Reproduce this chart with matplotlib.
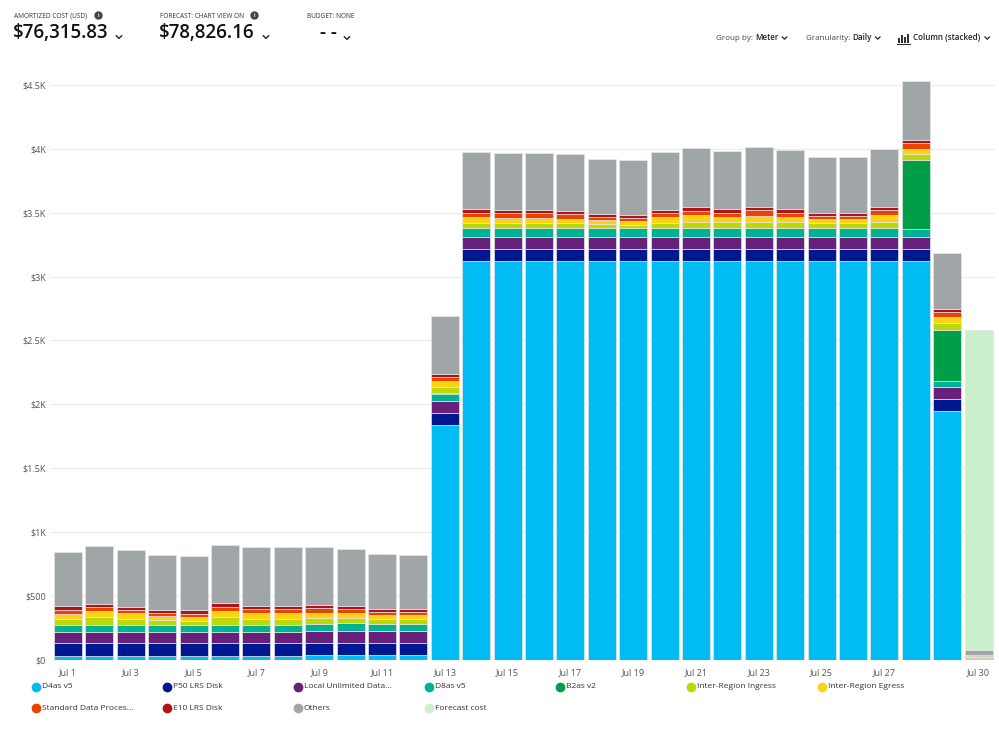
import matplotlib.pyplot as plt
from matplotlib.lines import Line2D
from matplotlib.patches import Rectangle

plt.rcParams['font.family'] = ['Open Sans', 'DejaVu Sans']

# daily amortized cost per meter, Jul 1 .. Jul 30 (USD)
days = ["Jul 1", "Jul 2", "Jul 3", "Jul 4", "Jul 5", "Jul 6", "Jul 7", "Jul 8", "Jul 9", "Jul 10",
        "Jul 11", "Jul 12", "Jul 13", "Jul 14", "Jul 15", "Jul 16", "Jul 17", "Jul 18", "Jul 19", "Jul 20",
        "Jul 21", "Jul 22", "Jul 23", "Jul 24", "Jul 25", "Jul 26", "Jul 27", "Jul 28", "Jul 29", "Jul 30"]
shown_ticks = ["Jul 1", "Jul 3", "Jul 5", "Jul 7", "Jul 9", "Jul 11", "Jul 13", "Jul 15", "Jul 17",
               "Jul 19", "Jul 21", "Jul 23", "Jul 25", "Jul 27", "Jul 30"]

d4as_v5 = [31, 31, 31, 31, 31, 31, 31, 31, 39, 41, 41, 41, 1839, 3118, 3118, 3118, 3118, 3118, 3118, 3118,
           3118, 3118, 3118, 3118, 3118, 3118, 3118, 3118, 1950, 3]
p50_lrs = [99, 99, 99, 99, 99, 99, 99, 99, 96, 94, 94, 94, 96, 96, 96, 96, 96, 96, 96, 96,
           96, 96, 96, 96, 96, 96, 96, 96, 95, 8]
local_unlimited = [92, 92, 92, 92, 92, 92, 92, 92, 92, 92, 93, 93, 92, 92, 92, 92, 92, 92, 92, 92,
                   92, 92, 92, 92, 92, 92, 92, 92, 94, 8]
d8as_v5 = [50, 50, 50, 50, 50, 50, 50, 50, 53, 61, 52, 52, 55, 70, 70, 70, 70, 70, 70, 70,
           70, 70, 70, 70, 70, 70, 70, 67, 45, 2]
b2as_v2 = [4, 4, 4, 4, 4, 4, 4, 4, 4, 4, 4, 4, 5, 5, 5, 5, 5, 5, 5, 5,
           5, 5, 5, 5, 5, 5, 5, 540, 399, 0]
ingress = [45, 58, 45, 37, 32, 58, 47, 47, 47, 39, 34, 34, 47, 40, 40, 40, 37, 32, 24, 40,
           48, 42, 48, 42, 35, 35, 48, 44, 52, 2]
egress = [39, 49, 44, 31, 26, 49, 42, 42, 39, 34, 34, 32, 50, 42, 39, 39, 34, 26, 29, 42,
          52, 40, 46, 40, 31, 31, 49, 42, 47, 8]
standard_data = [31, 29, 26, 24, 29, 32, 34, 34, 37, 34, 26, 26, 31, 36, 34, 34, 37, 29, 26, 31,
                 31, 36, 45, 36, 28, 28, 39, 42, 42, 8]
e10_lrs = [32, 26, 24, 26, 26, 31, 26, 26, 21, 24, 19, 21, 26, 26, 26, 26, 26, 21, 24, 26,
           29, 26, 26, 26, 24, 24, 26, 26, 23, 2]
others = [425, 454, 446, 425, 425, 452, 457, 457, 457, 448, 430, 425, 454, 449, 449, 449, 445, 427, 424, 454,
          464, 457, 467, 462, 433, 433, 454, 462, 436, 34]
forecast_cost = [0, 0, 0, 0, 0, 0, 0, 0, 0, 0, 0, 0, 0, 0, 0, 0, 0, 0, 0, 0,
                 0, 0, 0, 0, 0, 0, 0, 0, 0, 2508]

series = [
    ("D4as v5", d4as_v5, "#00bcf2"),
    ("P50 LRS Disk", p50_lrs, "#00188f"),
    ("Local Unlimited Data...", local_unlimited, "#68217a"),
    ("D8as v5", d8as_v5, "#00b294"),
    ("B2as v2", b2as_v2, "#009e49"),
    ("Inter-Region Ingress", ingress, "#bad80a"),
    ("Inter-Region Egress", egress, "#fcd116"),
    ("Standard Data Proces...", standard_data, "#ea4300"),
    ("E10 LRS Disk", e10_lrs, "#b4121b"),
    ("Others", others, "#a0a5a8"),
    ("Forecast cost", forecast_cost, "#c9f0ca"),
]

W, H = 999, 730


def px(x, y):
    return x / W, 1 - y / H


def chevron(fig, x, y, s=3.0, lw=1.0, color="#222222"):
    xs = [(x - s) / W, x / W, (x + s) / W]
    ys = [1 - (y - s * 0.5) / H, 1 - (y + s * 0.5) / H, 1 - (y - s * 0.5) / H]
    fig.add_artist(Line2D(xs, ys, color=color, lw=lw, solid_capstyle="round", solid_joinstyle="round"))


def info_icon(fig, x, y):
    fig.add_artist(Line2D([x / W], [1 - y / H], marker="o", markersize=5.0, color="#444444", lw=0))
    fig.text(*px(x, y + 0.3), "i", fontsize=3.6, color="white", ha="center", va="center", weight="bold")


fig = plt.figure(figsize=(W / 100, H / 100), dpi=100)
renderer = fig.canvas.get_renderer()


def text_run(x, y, s, **kw):
    # place text and return its right edge in pixels
    t = fig.text(*px(x, y), s, va="center", **kw)
    return x + t.get_window_extent(renderer).width


ax = fig.add_axes([50 / W, 70 / H, 944 / W, 588 / H])

x = list(range(len(days)))
bottom = [0] * len(days)
for name, vals, color in series:
    ax.bar(x, vals, bottom=bottom, width=0.89, color=color, edgecolor="#e4e4e4", linewidth=0.5)
    bottom = [b + v for b, v in zip(bottom, vals)]

ax.set_xlim(-0.573, 29.49)
ax.set_ylim(0, 4600)
yt = [0, 500, 1000, 1500, 2000, 2500, 3000, 3500, 4000, 4500]
ax.set_yticks(yt)
ax.set_yticklabels(["$0", "$500", "$1K", "$1.5K", "$2K", "$2.5K", "$3K", "$3.5K", "$4K", "$4.5K"])
ax.set_xticks([days.index(t) for t in shown_ticks])
ax.set_xticklabels(shown_ticks)
ax.tick_params(axis="y", length=0, pad=3, labelsize=6.5, labelcolor="#555555")
ax.tick_params(axis="x", length=0, pad=6, labelsize=6.5, labelcolor="#555555")
ax.yaxis.grid(True, color="#ebebeb", linewidth=0.8)
ax.set_axisbelow(True)
for sp in ax.spines.values():
    sp.set_visible(False)

# header KPIs
fig.text(*px(14, 16), "AMORTIZED COST (USD)", fontsize=4.7, color="#333333", va="center")
info_icon(fig, 98, 15)
fig.text(*px(13, 33), "$76,315.83", fontsize=13.5, color="#111111", va="center", weight="semibold")
chevron(fig, 119, 37, s=2.8)

fig.text(*px(160, 16), "FORECAST: CHART VIEW ON", fontsize=4.7, color="#333333", va="center")
info_icon(fig, 254, 15)
fig.text(*px(159, 33), "$78,826.16", fontsize=13.5, color="#111111", va="center", weight="semibold")
chevron(fig, 266, 37, s=2.8)

fig.text(*px(307, 16), "BUDGET: NONE", fontsize=4.7, color="#333333", va="center")
fig.text(*px(320, 33), "- -", fontsize=13.5, color="#111111", va="center", weight="semibold")
chevron(fig, 347, 38, s=2.8)

# toolbar
r = text_run(716, 38, "Group by: ", fontsize=5.8, color="#444444")
r = text_run(r, 38, "Meter", fontsize=5.8, color="#222222", weight="semibold")
chevron(fig, r + 6, 38, s=2.4, lw=0.9)
r = text_run(806, 38, "Granularity: ", fontsize=5.8, color="#444444")
r = text_run(r, 38, "Daily", fontsize=5.8, color="#222222", weight="semibold")
chevron(fig, r + 6, 38, s=2.4, lw=0.9)
for bx, bh in [(898, 5), (901, 8), (904, 6), (907, 9)]:
    fig.add_artist(Rectangle(px(bx, 43), 1.6 / W, bh / H, color="#333333", lw=0))
fig.add_artist(Line2D([897 / W, 910 / W], [1 - 43.5 / H, 1 - 43.5 / H], color="#333333", lw=0.8))
r = text_run(913, 38, "Column (stacked)", fontsize=5.8, color="#222222", weight="semibold")
chevron(fig, r + 7, 38, s=2.4, lw=0.9)

# legend
for i, (name, vals, color) in enumerate(series):
    row, col = divmod(i, 7)
    lx = 36 + 131 * col
    ly = 687 + 21 * row
    fig.add_artist(Line2D([lx / W], [1 - ly / H], marker="o", markersize=6.0, color=color, lw=0))
    fig.text(*px(lx + 6, ly), name, fontsize=6.0, color="#333333", va="center")

fig.savefig("out.png", dpi=100)
